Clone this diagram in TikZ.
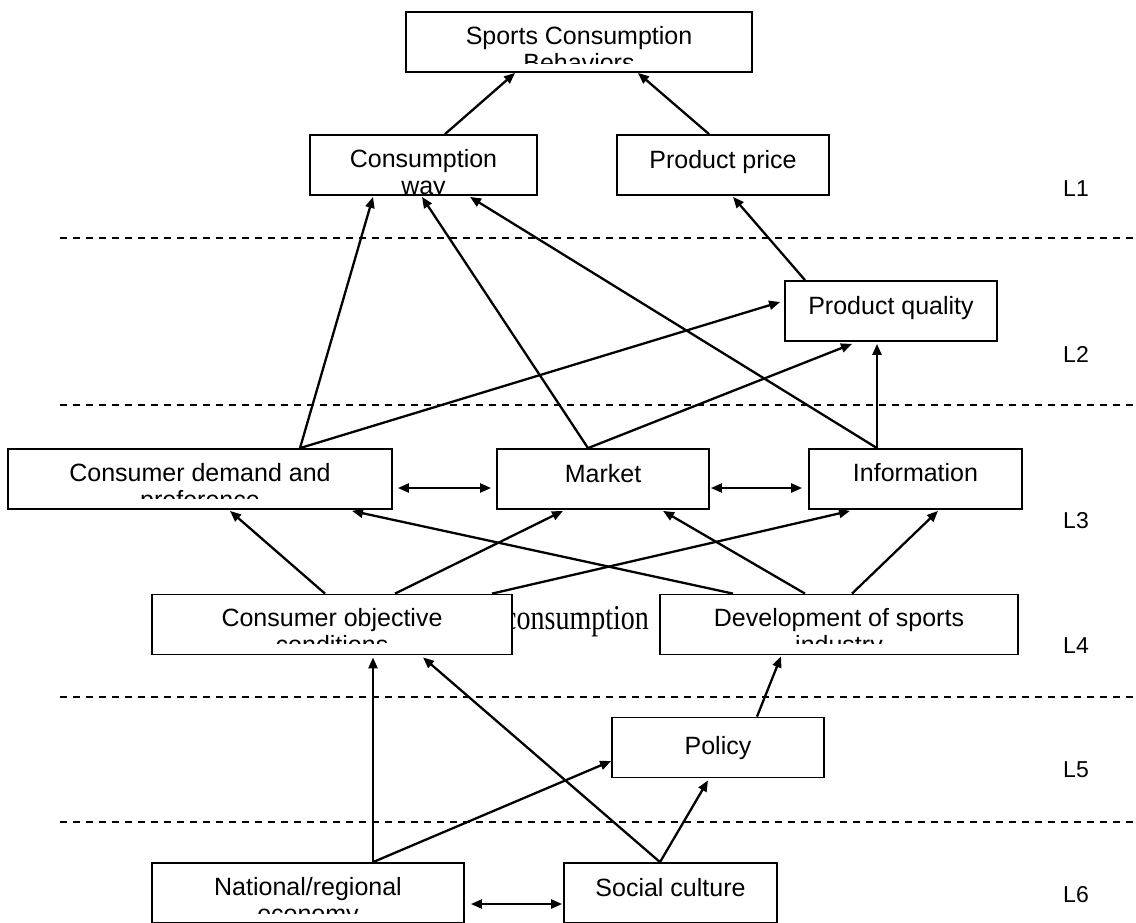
\documentclass[tikz,border=0pt]{standalone}
\usepackage{fontspec}
\setmainfont{Liberation Sans}
\newfontfamily\narrowserif[FakeStretch = 0.8]{Liberation Serif}
\usetikzlibrary{arrows.meta, calc}

% box text, cut off a little above the lower edge of its box
\newcommand{\factorlabel}[4][14]{%
  \begin{scope}
    \clip (#2.north west) rectangle ($(#2.south east) + (0, -#3)$);
    \node at ($(#2.north) + (0, #1)$)
    [factor text, anchor = north, name = #2_text] {#4};
  \end{scope}}

\begin{document}
\begin{tikzpicture}[
    x = 1pt, y = -1pt,
    line width = 2.3pt,
    > = {Triangle[length = 11pt, width = 9pt]},
    %
    factor/.style = {draw, fill = white,
      line width = 1.8pt,
      inner sep = 0,
      minimum height = 60},
    factor text/.style = {inner sep = 0,
      align = center,
      font = \fontsize{25}{27}\selectfont},
    %
    level/.style = {inner sep = 0,
      font = \fontsize{23}{27}\selectfont},
    layer/.style = {line width = 1.6pt,
      dash pattern = on 7pt off 6pt},
    ]

    \path [use as bounding box, clip] (0, 0) rectangle (1136, 922);

    \draw [layer] (60, 238) -- (1136, 238);
    \draw [layer] (60, 405) -- (1136, 405);
    \draw [layer] (60, 697) -- (1136, 697);
    \draw [layer] (60, 822) -- (1136, 822);

    \node at (1076, 189) [level, name = L1] {L1};
    \node at (1076, 354) [level, name = L2] {L2};
    \node at (1076, 521) [level, name = L3] {L3};
    \node at (1076, 646) [level, name = L4] {L4};
    \node at (1076, 770) [level, name = L5] {L5};
    \node at (1076, 895) [level, name = L6] {L6};

    \node at (579, 42)
    [factor, minimum width = 346, name = SCB] {};

    \node at (423.5, 165)
    [factor, minimum width = 227, name = CW] {};
    \node at (723, 165)
    [factor, minimum width = 212, name = PP] {};

    \node at (891, 311)
    [factor, minimum width = 212, name = PQ] {};

    \node at (200, 479)
    [factor, minimum width = 384, name = CD] {};
    \node at (603, 479)
    [factor, minimum width = 212, name = MK] {};
    \node at (915.5, 479)
    [factor, minimum width = 213, name = INF] {};

    \node at (650, 629)
    [anchor = base east, inner sep = 0, name = stray,
      font = \narrowserif\fontsize{35}{40}\selectfont] {consumption};

    \node at (332, 624.5)
    [factor, minimum width = 360, name = COC] {};
    \node at (839, 624.5)
    [factor, minimum width = 358, name = DSI] {};

    \node at (718, 747.5)
    [factor, minimum width = 212, name = POL] {};

    \node at (308, 893)
    [factor, minimum width = 312, name = NRE] {};
    \node at (670.5, 893)
    [factor, minimum width = 213, name = SC] {};

    \factorlabel{SCB}{9}{Sports Consumption\\Behaviors}
    \factorlabel{CW}{2}{Consumption\\way}
    \factorlabel[15]{PP}{0}{Product price}
    \factorlabel[15]{PQ}{0}{Product quality}
    \factorlabel{CD}{11}{Consumer demand and\\preference}
    \factorlabel[15]{MK}{0}{Market}
    \factorlabel{INF}{0}{Information}
    \factorlabel{COC}{12}{Consumer objective\\conditions}
    \factorlabel{DSI}{12}{Development of sports\\industry}
    \factorlabel[18.5]{POL}{0}{Policy}
    \factorlabel{NRE}{10}{National/regional\\economy}
    \factorlabel[15]{SC}{0}{Social culture}

    \draw [->] ($(CW.north) + (21.5, 0)$) to ($(SCB.south) + (-64, 0)$);
    \draw [->] ($(PP.north) + (-14, 0)$) to ($(SCB.south) + (59, 0)$);

    \draw [->] ($(CD.north) + (100, 0)$) to ($(CW.south) + (-50.5, 1)$);
    \draw [->] ($(MK.north) + (-15, 0)$) to ($(CW.south) + (-1.5, 1)$);
    \draw [->] ($(INF.north) + (-38.5, 0)$) to ($(CW.south) + (46.5, 1)$);
    \draw [->] ($(PQ.north) + (-86, 0)$) to ($(PP.south) + (10, 1)$);

    \draw [->] ($(CD.north) + (100, 0)$) to ($(PQ.west) + (-4, -9)$);
    \draw [->] ($(MK.north) + (-15, 0)$) to ($(PQ.south) + (-39, 2)$);
    \draw [->] ($(INF.north) + (-38.5, 0)$) to ($(PQ.south) + (-14, 2)$);

    \draw [<->] ($(CD.east) + (5, 9)$) to ($(MK.west) + (-5, 9)$);
    \draw [<->] ($(MK.east) + (1, 9)$) to ($(INF.west) + (-6, 9)$);

    \draw [->] ($(COC.north) + (-7, 0)$) to ($(CD.south) + (30, 1)$);
    \draw [->] ($(COC.north) + (63, 0)$) to ($(MK.south) + (-40, 1)$);
    \draw [->] ($(COC.north) + (160, 0)$) to ($(INF.south) + (-65.5, 1)$);
    \draw [->] ($(DSI.north) + (-106, 0)$) to ($(CD.south) + (152, 1)$);
    \draw [->] ($(DSI.north) + (-34, 0)$) to ($(MK.south) + (60, 1)$);
    \draw [->] ($(DSI.north) + (13, 0)$) to ($(INF.south) + (22.5, 1)$);

    \draw [->] ($(NRE.north) + (65, 0)$) to ($(COC.south) + (41, 2)$);
    \draw [->] ($(SC.north) + (-10.5, 0)$) to ($(COC.south) + (91, 2)$);
    \draw [->] ($(NRE.north) + (65, 0)$) to ($(POL.west) + (0, 13.5)$);
    \draw [->] ($(SC.north) + (-10.5, 0)$) to ($(POL.south) + (-10, 2)$);
    \draw [->] ($(POL.north) + (39, 0)$) to ($(DSI.south) + (-58, 1)$);

    \draw [<->] ($(NRE.east) + (6, 11)$) to ($(SC.west) + (-1, 11)$);

  \end{tikzpicture}
\end{document}
